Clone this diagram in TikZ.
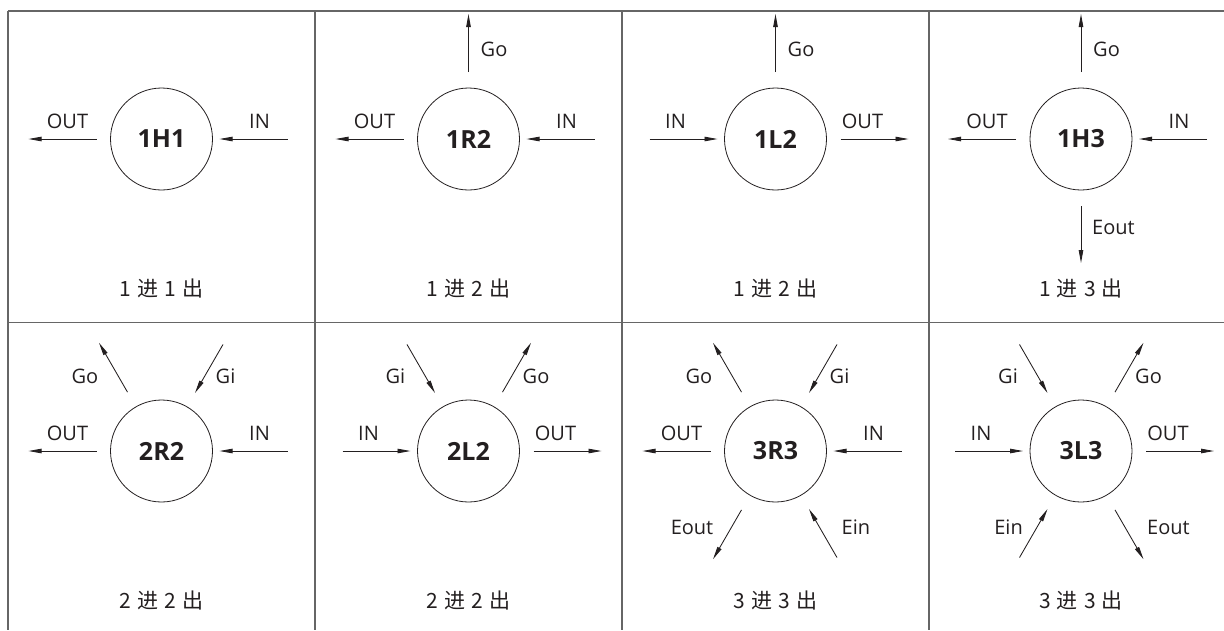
\documentclass[tikz,border=0pt]{standalone}
\usepackage{fontspec}
\setmainfont{Open Sans}
\newfontfamily\cjk{Noto Sans CJK SC}
\usetikzlibrary{arrows.meta,calc}
\definecolor{ink}{HTML}{231F20}
\definecolor{gridc}{HTML}{666666}
% #1 hub, #2 name, #3 angle, #4 start radius, #5 end radius
\newcommand\flowarr[5]{%
  \coordinate (#2s) at ($(#1)+(#3:#4pt)$);
  \coordinate (#2e) at ($(#1)+(#3:#5pt)$);
  \draw[flow] (#2s) -- (#2e);}
% #1 hub, #2 name, #3 anchor, #4 dx, #5 dy, #6 text
\newcommand\flowlbl[6]{%
  \node[lab,anchor=#3] (#2) at ($(#1)+(#4pt,#5pt)$) {#6};}
\newcommand\jc[2]{#1\hspace{6pt}进\hspace{6pt}#2\hspace{6pt}出}
\begin{document}
\begin{tikzpicture}[x=1pt,y=-1pt,
  hub/.style={circle,draw=ink,line width=0.8pt,minimum size=102pt,inner sep=0pt,
    font=\bfseries\fontsize{25}{25}\selectfont,text=ink},
  flow/.style={draw=ink,line width=0.85pt,-{Triangle[length=13pt,width=4.5pt]}},
  lab/.style={inner sep=0pt,font=\fontsize{20}{20}\selectfont,text=ink},
  capt/.style={inner sep=0pt,font=\cjk\fontsize{21}{21}\selectfont,text=ink,anchor=base},
  gridline/.style={draw=gridc,line width=1.3pt}]
\useasboundingbox (0,0) rectangle (1224,630);
% grid
\draw[gridline] (8,11) -- (1224,11);
\draw[gridline] (8,322.5) -- (1224,322.5);
\draw[gridline] (8,11) -- (8,630);
\draw[gridline] (315,11) -- (315,630);
\draw[gridline] (622,11) -- (622,630);
\draw[gridline] (929,11) -- (929,630);

% hubs
\node[hub] (c1) at (161.5,139) {1H1};
\node[hub] (c2) at (468.5,139) {1R2};
\node[hub] (c3) at (775.5,139) {1L2};
\node[hub] (c4) at (1081,139) {1H3};
\node[hub] (c5) at (161.5,451) {2R2};
\node[hub] (c6) at (468.5,451) {2L2};
\node[hub] (c7) at (775.5,451) {3R3};
\node[hub] (c8) at (1081,451) {3L3};

% captions
\node[capt] (t1) at ($(c1)+(0pt,-157pt)$) {\jc{1}{1}};
\node[capt] (t2) at ($(c2)+(0pt,-157pt)$) {\jc{1}{2}};
\node[capt] (t3) at ($(c3)+(0pt,-157pt)$) {\jc{1}{2}};
\node[capt] (t4) at ($(c4)+(0pt,-157pt)$) {\jc{1}{3}};
\node[capt] (t5) at ($(c5)+(0pt,-157pt)$) {\jc{2}{2}};
\node[capt] (t6) at ($(c6)+(0pt,-157pt)$) {\jc{2}{2}};
\node[capt] (t7) at ($(c7)+(0pt,-157pt)$) {\jc{3}{3}};
\node[capt] (t8) at ($(c8)+(0pt,-157pt)$) {\jc{3}{3}};

% cell 1: 1H1
\flowarr{c1}{a1o}{180}{65}{133}
\flowarr{c1}{a1i}{0}{126}{58}
\flowlbl{c1}{l1o}{base}{-94}{11}{OUT}
\flowlbl{c1}{l1i}{base}{98}{11}{IN}

% cell 2: 1R2
\flowarr{c2}{a2g}{90}{67}{125}
\flowarr{c2}{a2o}{180}{65}{133}
\flowarr{c2}{a2i}{0}{126}{58}
\flowlbl{c2}{l2g}{base west}{12}{83}{Go}
\flowlbl{c2}{l2o}{base}{-94}{11}{OUT}
\flowlbl{c2}{l2i}{base}{98}{11}{IN}

% cell 3: 1L2
\flowarr{c3}{a3g}{90}{67}{125}
\flowarr{c3}{a3i}{180}{126}{58}
\flowarr{c3}{a3o}{0}{65}{133}
\flowlbl{c3}{l3g}{base west}{12}{83}{Go}
\flowlbl{c3}{l3i}{base}{-100}{11}{IN}
\flowlbl{c3}{l3o}{base}{87}{11}{OUT}

% cell 4: 1H3
\flowarr{c4}{a4g}{90}{67}{125}
\flowarr{c4}{a4o}{180}{65}{133}
\flowarr{c4}{a4i}{0}{126}{58}
\flowarr{c4}{a4e}{270}{67}{124}
\flowlbl{c4}{l4g}{base west}{12}{83}{Go}
\flowlbl{c4}{l4o}{base}{-94}{11}{OUT}
\flowlbl{c4}{l4i}{base}{98}{11}{IN}
\flowlbl{c4}{l4e}{base west}{11}{-95}{Eout}

% cell 5: 2R2
\flowarr{c5}{a5g}{120}{68}{125}
\flowarr{c5}{a5gi}{60}{123}{67}
\flowarr{c5}{a5o}{180}{65}{133}
\flowarr{c5}{a5i}{0}{126}{58}
\flowlbl{c5}{l5g}{base east}{-63}{68}{Go}
\flowlbl{c5}{l5gi}{base west}{54}{68}{Gi}
\flowlbl{c5}{l5o}{base}{-94}{11}{OUT}
\flowlbl{c5}{l5i}{base}{98}{11}{IN}

% cell 6: 2L2
\flowarr{c6}{a6gi}{120}{123}{67}
\flowarr{c6}{a6g}{60}{68}{125}
\flowarr{c6}{a6i}{180}{126}{58}
\flowarr{c6}{a6o}{0}{65}{133}
\flowlbl{c6}{l6gi}{base east}{-63}{68}{Gi}
\flowlbl{c6}{l6g}{base west}{54}{68}{Go}
\flowlbl{c6}{l6i}{base}{-100}{11}{IN}
\flowlbl{c6}{l6o}{base}{87}{11}{OUT}

% cell 7: 3R3
\flowarr{c7}{a7g}{120}{68}{125}
\flowarr{c7}{a7gi}{60}{123}{67}
\flowarr{c7}{a7o}{180}{65}{133}
\flowarr{c7}{a7i}{0}{126}{58}
\flowarr{c7}{a7e}{240}{68}{125}
\flowarr{c7}{a7ei}{300}{123}{67}
\flowlbl{c7}{l7g}{base east}{-63}{68}{Go}
\flowlbl{c7}{l7gi}{base west}{54}{68}{Gi}
\flowlbl{c7}{l7o}{base}{-94}{11}{OUT}
\flowlbl{c7}{l7i}{base}{98}{11}{IN}
\flowlbl{c7}{l7e}{base east}{-62}{-83}{Eout}
\flowlbl{c7}{l7ei}{base west}{66}{-83}{Ein}

% cell 8: 3L3
\flowarr{c8}{a8gi}{120}{123}{67}
\flowarr{c8}{a8g}{60}{68}{125}
\flowarr{c8}{a8i}{180}{126}{58}
\flowarr{c8}{a8o}{0}{65}{133}
\flowarr{c8}{a8ei}{240}{123}{67}
\flowarr{c8}{a8e}{300}{68}{125}
\flowlbl{c8}{l8gi}{base east}{-63}{68}{Gi}
\flowlbl{c8}{l8g}{base west}{54}{68}{Go}
\flowlbl{c8}{l8i}{base}{-100}{11}{IN}
\flowlbl{c8}{l8o}{base}{87}{11}{OUT}
\flowlbl{c8}{l8ei}{base east}{-58}{-83}{Ein}
\flowlbl{c8}{l8e}{base west}{66}{-83}{Eout}
\end{tikzpicture}
\end{document}
